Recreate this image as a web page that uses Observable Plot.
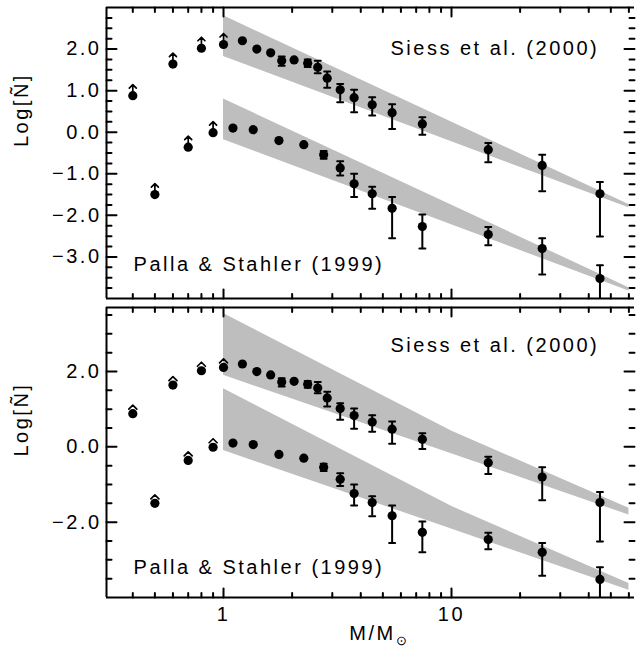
<!DOCTYPE html>
<html><head><meta charset="utf-8">
<script src="https://cdn.jsdelivr.net/npm/d3@7"></script>
<script src="https://cdn.jsdelivr.net/npm/@observablehq/plot@0.6"></script>
<style>
html,body{margin:0;padding:0;background:#fff;}
#chart svg{display:block;}
#chart svg text{letter-spacing:2.5px;}
</style></head><body><div id="chart"></div>
<script>
// ---- data: Siess et al. (2000) ----
const siessMass = [0.4, 0.6, 0.8, 1.0, 1.21, 1.40, 1.61, 1.80, 2.04, 2.34, 2.59, 2.85, 3.25, 3.74, 4.49, 5.49, 7.45, 14.5, 25.0, 44.8];
const siessLogN = [0.88, 1.64, 2.02, 2.11, 2.20, 2.00, 1.91, 1.72, 1.74, 1.66, 1.56, 1.30, 1.02, 0.83, 0.66, 0.47, 0.20, -0.42, -0.80, -1.48];
const siessErrHi = [null, null, null, null, null, null, null, 1.82, null, 1.75, 1.72, 1.46, 1.16, 1.02, 0.84, 0.67, 0.36, -0.26, -0.54, -1.20];
const siessErrLo = [null, null, null, null, null, null, null, 1.60, null, 1.57, 1.42, 1.07, 0.72, 0.48, 0.40, 0.08, -0.06, -0.72, -1.42, -2.51];
const siessLimit = [true, true, true, true, false, false, false, false, false, false, false, false, false, false, false, false, false, false, false, false];
// ---- data: Palla & Stahler (1999) ----
const pallaMass = [0.5, 0.7, 0.9, 1.10, 1.35, 1.75, 2.25, 2.75, 3.25, 3.74, 4.49, 5.49, 7.45, 14.5, 25.0, 44.8];
const pallaLogN = [-1.50, -0.36, -0.01, 0.10, 0.06, -0.20, -0.30, -0.54, -0.86, -1.24, -1.48, -1.83, -2.27, -2.46, -2.80, -3.52];
const pallaErrHi = [null, null, null, null, null, null, null, -0.45, -0.70, -1.00, -1.31, -1.56, -1.98, -2.28, -2.55, -3.20];
const pallaErrLo = [null, null, null, null, null, null, null, -0.64, -1.04, -1.56, -1.84, -2.55, -2.80, -2.72, -3.42, -4.40];
const pallaLimit = [true, true, true, false, false, false, false, false, false, false, false, false, false, false, false, false];
// ---- model bands ----
const bandMassTop = [1, 60];
const siessBandHiTop = [2.80, -1.74];
const siessBandLoTop = [1.82, -1.82];
const pallaBandHiTop = [0.80, -3.74];
const pallaBandLoTop = [-0.18, -3.82];
const bandMassBottom = [1, 10, 60];
const siessBandHiBottom = [3.54, 0.42, -1.63];
const siessBandLoBottom = [1.90, -0.18, -1.81];
const pallaBandHiBottom = [1.54, -1.58, -3.63];
const pallaBandLoBottom = [-0.10, -2.18, -3.81];
// ---- annotations & ticks ----
const labelTexts = ["Siess et al. (2000)", "Palla & Stahler (1999)"];
const labelMass = [5.4, 0.403];
const labelLogNTop = [2.0, -3.18];
const labelLogNBottom = [2.69, -3.2];
const xMajorTicks = [1, 10];
const xMinorTicks = [0.4, 0.5, 0.6, 0.7, 0.8, 0.9, 2, 3, 4, 5, 6, 7, 8, 9, 20, 30, 40, 50, 60];
const xTickLabels = ["1", "10"];
const yLabelsTop = [-3, -2, -1, 0, 1, 2];
const yLabelsBottom = [-2, 0, 2];
const yTitle = "Log[Ñ]";
const xTitle = "M/M";
const xTitleSub = "⊙";

const xDomain = [0.3067, 63.5];
const FONT = "Liberation Sans, Arial, sans-serif";

const lineShape = {draw(c, l) { c.moveTo(0, 0); c.lineTo(0, -l); }};
const capShape = {draw(c, l) { c.moveTo(-l / 2, 0); c.lineTo(l / 2, 0); }};
const arrowShape = {draw(c, l) { c.moveTo(0, -4); c.lineTo(0, -l); c.moveTo(-3.5, -l + 3.5); c.lineTo(0, -l); c.lineTo(3.5, -l + 3.5); }};
const chevronShape = {draw(c, l) { c.moveTo(-4, -4.5); c.lineTo(0, -l); c.lineTo(4, -4.5); }};

function rows(mass, logN, hi, lo, lim) {
  return mass.map((m, i) => ({m, y: logN[i], hi: hi[i], lo: lo[i], lim: lim[i]}));
}
const siess = rows(siessMass, siessLogN, siessErrHi, siessErrLo, siessLimit);
const palla = rows(pallaMass, pallaLogN, pallaErrHi, pallaErrLo, pallaLimit);
const points = siess.concat(palla);
const errs = points.filter(d => d.hi != null);
const lims = points.filter(d => d.lim);

function band(mass, hi, lo) { return mass.map((m, i) => ({m, hi: hi[i], lo: lo[i]})); }

function panel(o) {
  const [y0, y1] = o.yDomain;
  const yMinor = d3.range(y0 + o.minorStep, y1 - 1e-9, o.minorStep).filter(v => Math.abs(v / o.majorStep - Math.round(v / o.majorStep)) > 1e-6);
  const yMajor = d3.range(Math.ceil(y0 / o.majorStep) * o.majorStep, y1 + 1e-9, o.majorStep).filter(v => v > y0 + 1e-6 && v < y1 - 1e-6);
  const xmin = xDomain[0], xmax = xDomain[1];
  const tick = (data, x, y, len, rot) => Plot.vector(data, {x, y, length: len, rotate: rot, anchor: "start", shape: lineShape, stroke: "black", strokeWidth: 2, fill: "none"});
  const marks = [
    ...o.bands.map(b => Plot.areaY(b, {x: "m", y1: "lo", y2: "hi", fill: "#bebebe", curve: "linear"})),
    Plot.ruleX([xmin], {stroke: "black", strokeWidth: 2}),
    Plot.ruleY([y0, y1], {stroke: "black", strokeWidth: 2}),
    tick(xMajorTicks, d => d, () => y0, 9, 0),
    tick(xMinorTicks, d => d, () => y0, 4.5, 0),
    tick(xMajorTicks, d => d, () => y1, 9, 180),
    tick(xMinorTicks, d => d, () => y1, 4.5, 180),
    tick(yMajor, () => xmin, d => d, 10, 90),
    tick(yMinor, () => xmin, d => d, 5, 90),
    tick(yMajor, () => xmax, d => d, 10, -90),
    tick(yMinor, () => xmax, d => d, 5, -90),
    Plot.axisY(o.yLabels, {tickSize: 0, tickPadding: 5, fontSize: 20, tickFormat: d3.format(".1f"), label: null}),
    Plot.ruleX(errs, {x: "m", y1: "lo", y2: "hi", stroke: "black", strokeWidth: 2, clip: true}),
    Plot.vector(errs, {x: "m", y: "hi", length: 6, anchor: "start", shape: capShape, stroke: "black", strokeWidth: 2, fill: "none", clip: true}),
    Plot.vector(errs, {x: "m", y: "lo", length: 6, anchor: "start", shape: capShape, stroke: "black", strokeWidth: 2, fill: "none", clip: true}),
    Plot.vector(lims, {x: "m", y: "y", length: o.arrowLen, anchor: "start", shape: o.arrow, stroke: "black", strokeWidth: 1.7, fill: "none"}),
    Plot.dot(points, {x: "m", y: "y", r: 4.6, fill: "black", stroke: null}),
    Plot.text(labelTexts, {x: (d, i) => labelMass[i], y: (d, i) => o.labelY[i], text: d => d, textAnchor: "start", fontSize: 20, fill: "black"}),
    Plot.text([yTitle], {frameAnchor: "left", dx: -85, dy: o.titleDy, rotate: -90, fontSize: 20, fill: "black"})
  ];
  if (o.showX) {
    marks.push(Plot.axisX(xMajorTicks, {tickSize: 0, tickPadding: 9, fontSize: 20, tickFormat: d => xTickLabels[xMajorTicks.indexOf(d)], label: null}));
    marks.push(Plot.text([xTitle], {frameAnchor: "bottom", dx: 2, dy: 42, fontSize: 20, fill: "black"}));
    marks.push(Plot.text([xTitleSub], {frameAnchor: "bottom", dx: 32, dy: 47, fontSize: 13, fill: "black"}));
  }
  return Plot.plot({
    width: 640, height: o.height,
    marginLeft: 106, marginRight: 6, marginTop: 7, marginBottom: o.marginBottom,
    style: {fontFamily: FONT, fontSize: "20px", background: "white", color: "black", overflow: "visible"},
    x: {type: "log", domain: xDomain, axis: null, label: null},
    y: {domain: o.yDomain, axis: null, label: null},
    marks
  });
}

const topPanel = panel({
  height: 300, marginBottom: 2, yDomain: [-4, 3], minorStep: 0.25, majorStep: 1, yLabels: yLabelsTop,
  bands: [band(bandMassTop, siessBandHiTop, siessBandLoTop), band(bandMassTop, pallaBandHiTop, pallaBandLoTop)],
  labelY: labelLogNTop, arrow: arrowShape, arrowLen: 11, titleDy: -6, showX: false
});
const bottomPanel = panel({
  height: 358, marginBottom: 61, yDomain: [-4, 3.7], minorStep: 0.5, majorStep: 2, yLabels: yLabelsBottom,
  bands: [band(bandMassBottom, siessBandHiBottom, siessBandLoBottom), band(bandMassBottom, pallaBandHiBottom, pallaBandLoBottom)],
  labelY: labelLogNBottom, arrow: chevronShape, arrowLen: 8.5, titleDy: 4, showX: true
});
document.getElementById("chart").append(topPanel, bottomPanel);
</script></body></html>
